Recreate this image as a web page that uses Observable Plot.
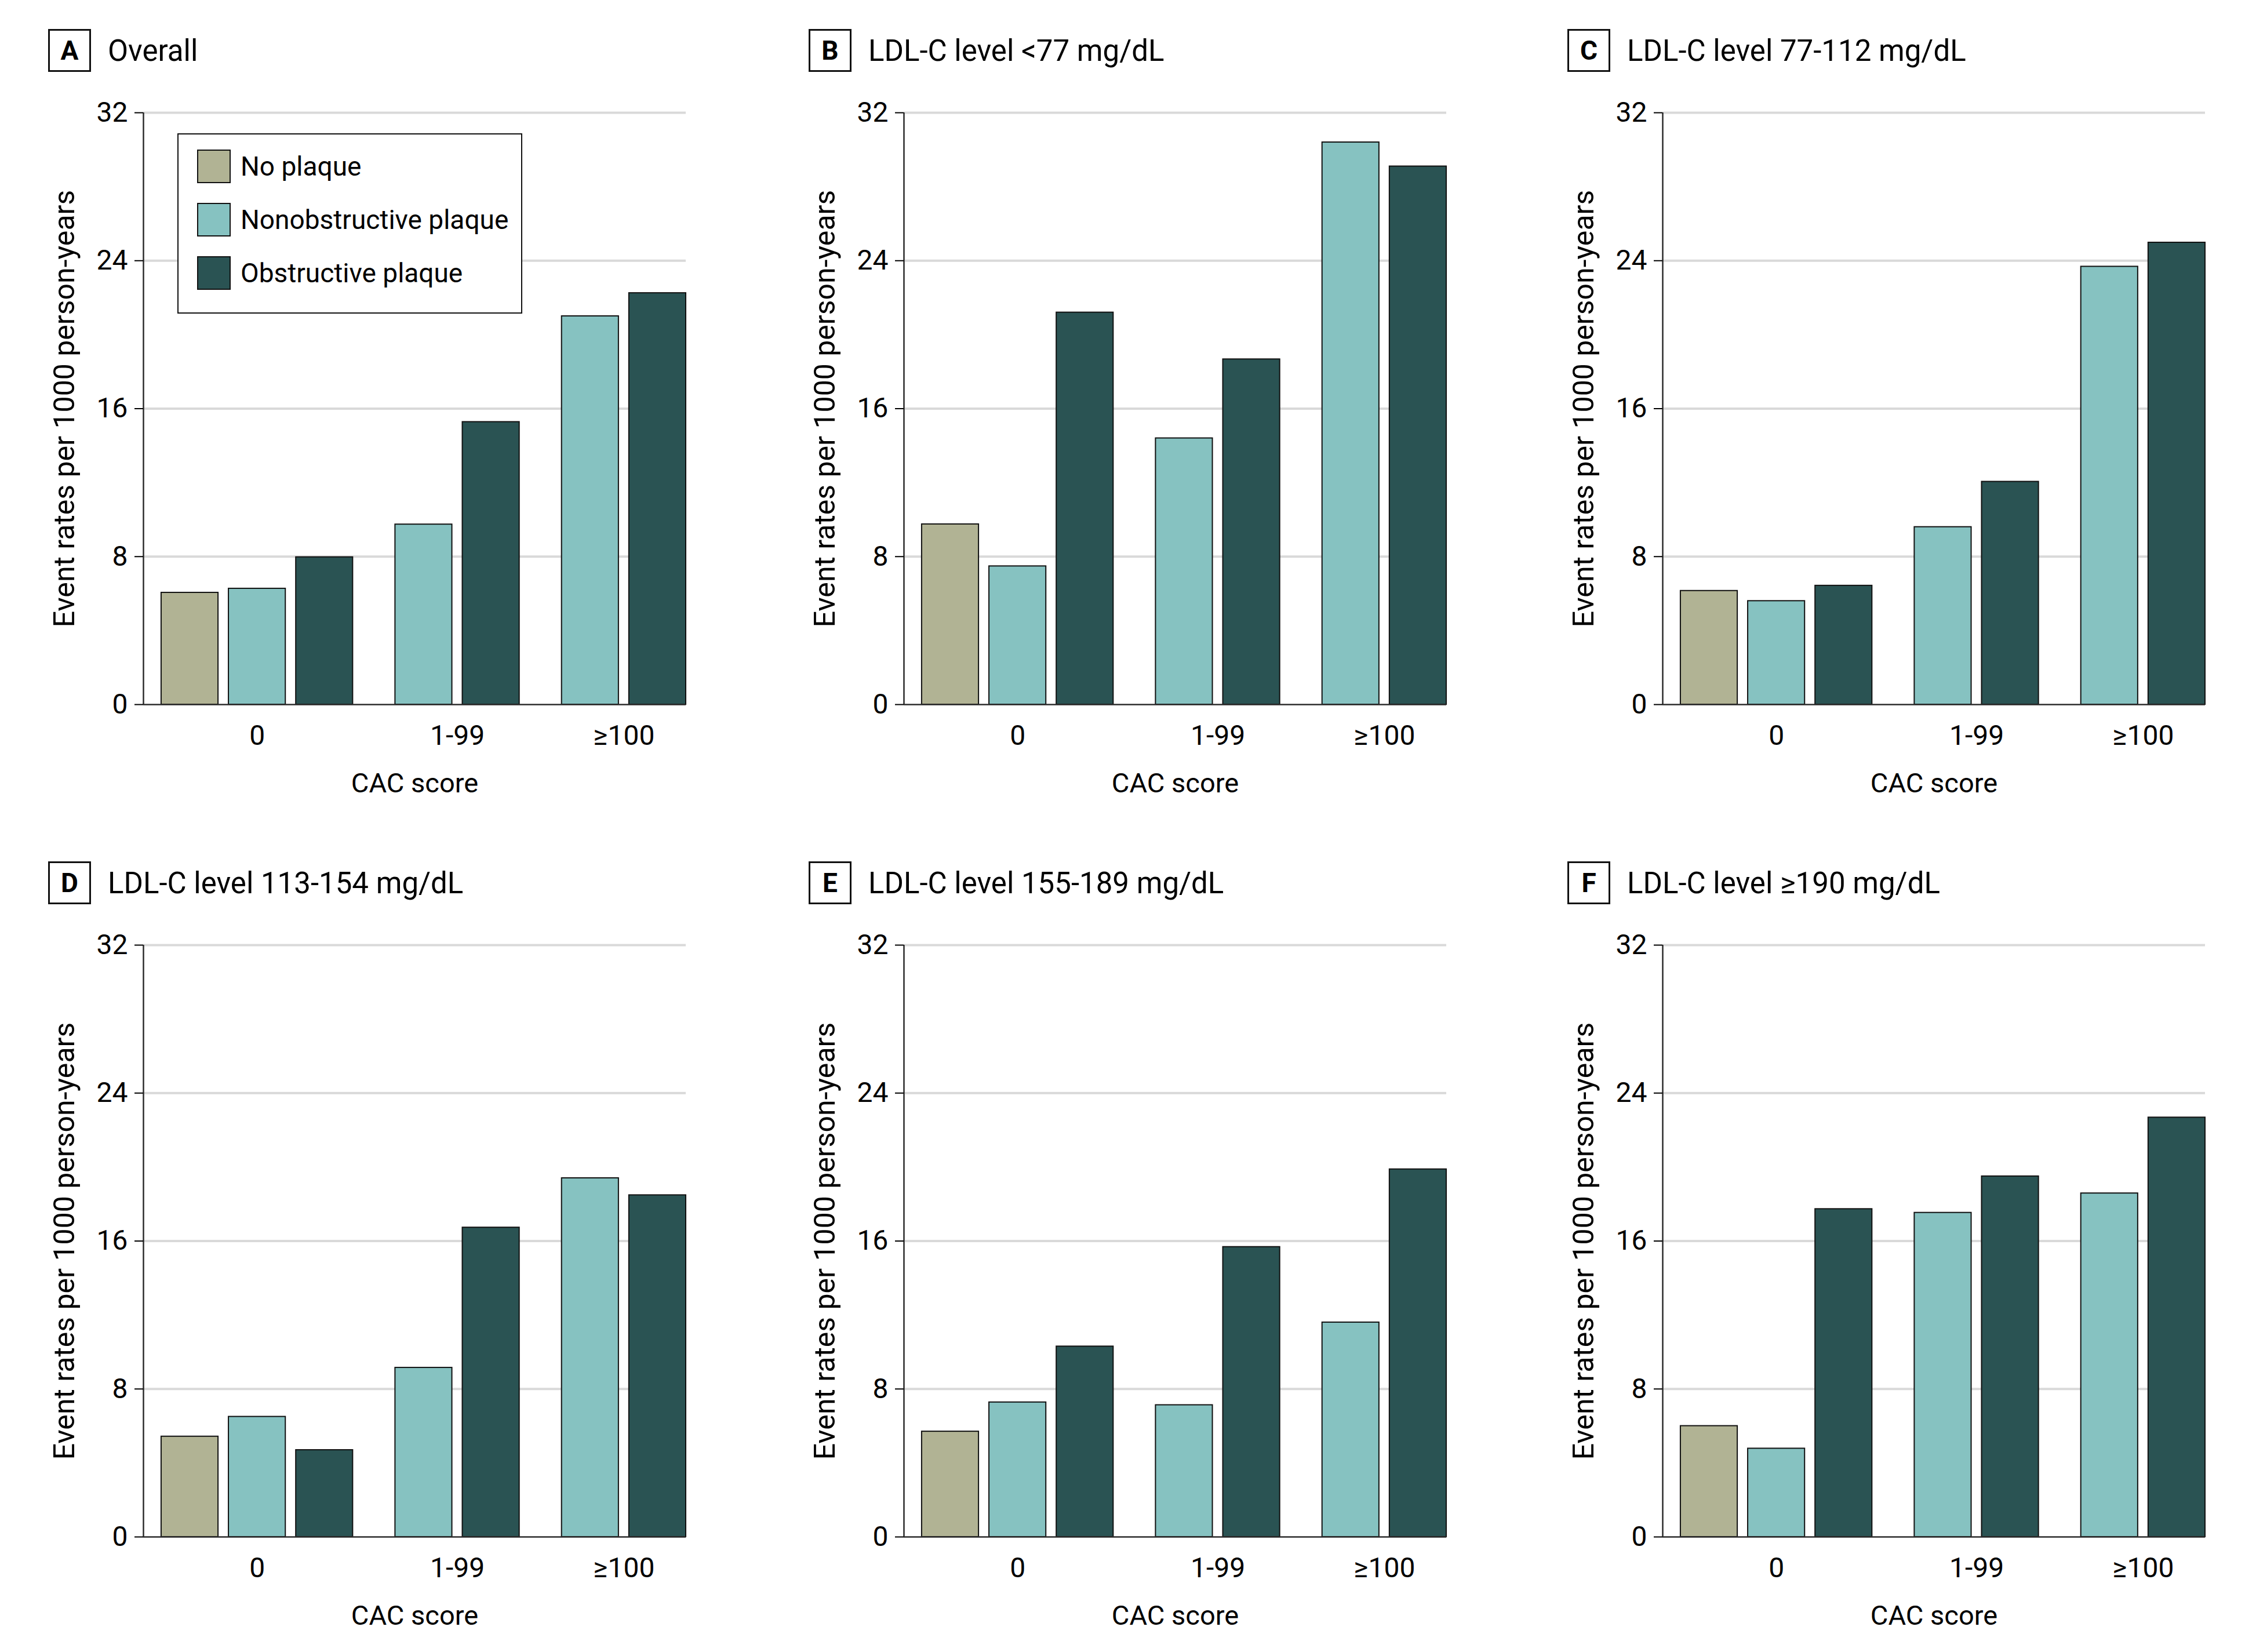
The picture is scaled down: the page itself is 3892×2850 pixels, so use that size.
<!DOCTYPE html>
<html><head><meta charset="utf-8">
<script src="https://cdn.jsdelivr.net/npm/d3@7"></script>
<script src="https://cdn.jsdelivr.net/npm/@observablehq/plot@0.6"></script>
<style>
  html, body { margin: 0; padding: 0; background: #fff; }
  #page { position: relative; width: 3892px; height: 2850px; font-family: Roboto, "Noto Sans", sans-serif; color: #000; overflow: hidden; }
  .panel { position: absolute; }
  .panel svg { position: absolute; left: 0; top: 0; overflow: visible; }
  .ptitle { position: absolute; display: flex; align-items: center; white-space: nowrap; }
  .pbox { box-sizing: border-box; width: 74px; height: 74px; border: 3px solid #111; display: flex; align-items: center; justify-content: center; font-weight: 700; font-size: 46px; line-height: 1; }
  .ptext { margin-left: 29px; font-size: 51px; line-height: 1; }
  .legend { position: absolute; box-sizing: border-box; border: 2.5px solid #111; background: #fff; }
  .lrow { position: absolute; display: flex; align-items: center; white-space: nowrap; }
  .lsw { box-sizing: border-box; width: 58px; height: 58px; border: 2px solid #111; }
  .ltx { margin-left: 17px; font-size: 46px; line-height: 1; }
</style>
</head><body>
<div id="page"></div>
<script>
// ---------- data ----------
const cacCategories = ["0", "1-99", "≥100"];
const plaqueTypes = ["No plaque", "Nonobstructive plaque", "Obstructive plaque"];
const plaqueColors = ["#b1b394", "#86c2c1", "#2a5353"];

// bar order within each panel
const barCAC    = ["0", "0", "0", "1-99", "1-99", "≥100", "≥100"];
const barPlaque = ["No plaque", "Nonobstructive plaque", "Obstructive plaque",
                   "Nonobstructive plaque", "Obstructive plaque",
                   "Nonobstructive plaque", "Obstructive plaque"];

// event rates per 1000 person-years, one array per panel (same order as barCAC / barPlaque)
const ratesA = [6.05, 6.27, 7.97, 9.74, 15.28, 21.0, 22.25];
const ratesB = [9.75, 7.48, 21.2, 14.4, 18.67, 30.4, 29.1];
const ratesC = [6.15, 5.6, 6.43, 9.6, 12.05, 23.68, 24.98];
const ratesD = [5.43, 6.5, 4.7, 9.15, 16.73, 19.4, 18.48];
const ratesE = [5.7, 7.28, 10.3, 7.13, 15.68, 11.6, 19.88];
const ratesF = [6.0, 4.78, 17.73, 17.53, 19.5, 18.58, 22.68];

const panelLetters = ["A", "B", "C", "D", "E", "F"];
const panelTitles = ["Overall", "LDL-C level <77 mg/dL", "LDL-C level 77-112 mg/dL",
                     "LDL-C level 113-154 mg/dL", "LDL-C level 155-189 mg/dL", "LDL-C level ≥190 mg/dL"];
const panelRates = [ratesA, ratesB, ratesC, ratesD, ratesE, ratesF];

const yTicks = [0, 8, 16, 24, 32];
const yTitle = "Event rates per 1000 person-years";
const xTitle = "CAC score";

// ---------- layout ----------
const ML = 247, MR = 40, MT = 44, MB = 180, FRAME_W = 936;
const W = ML + FRAME_W + MR, H = 1245;
const colLeft = [0, 1312, 2621];
const rowTop = [150, 1586];
// bar slot spacing (in bar widths)
const leftPad = 0.315, innerGap = 0.183, groupGap = 0.744;

// compute bar extents from category order (acts like a grouped band scale)
const slots = [];
let cursor = 0;
barCAC.forEach((g, i) => {
  cursor += i === 0 ? leftPad : (g === barCAC[i - 1] ? innerGap : groupGap);
  slots.push({x1: cursor, x2: cursor + 1});
  cursor += 1;
});
const xMax = cursor;
const groupCenter = new Map(cacCategories.map(g => {
  const idx = barCAC.map((b, i) => b === g ? i : -1).filter(i => i >= 0);
  return [g, (slots[idx[0]].x1 + slots[idx[idx.length - 1]].x2) / 2];
}));
const centers = cacCategories.map(g => groupCenter.get(g));
const centerLabel = new Map(cacCategories.map(g => [groupCenter.get(g), g]));

const page = document.getElementById("page");

panelRates.forEach((rates, p) => {
  const col = p % 3, row = Math.floor(p / 3);
  const rows = rates.map((v, i) => ({cac: barCAC[i], plaque: barPlaque[i], rate: v, x1: slots[i].x1, x2: slots[i].x2}));

  const chart = Plot.plot({
    width: W, height: H,
    marginLeft: ML, marginRight: MR, marginTop: MT, marginBottom: MB,
    style: {fontFamily: "Roboto, 'Noto Sans', sans-serif", color: "#000", background: "transparent", overflow: "visible"},
    x: {domain: [0, xMax], axis: null},
    y: {domain: [0, 32], axis: null},
    color: {domain: plaqueTypes, range: plaqueColors},
    marks: [
      Plot.gridY({ticks: yTicks.filter(t => t > 0), stroke: "#d9d9d9", strokeOpacity: 1, strokeWidth: 4}),
      Plot.rect(rows, {x1: "x1", x2: "x2", y1: 0, y2: "rate", fill: "plaque", stroke: "#111", strokeWidth: 2}),
      Plot.ruleX([0], {stroke: "#2b2b2b", strokeWidth: 2.5}),
      Plot.ruleY([0], {stroke: "#2b2b2b", strokeWidth: 2.5}),
      Plot.axisY({ticks: yTicks, tickSize: 15, tickPadding: 12, fontSize: 48, strokeWidth: 2, label: null}),
      Plot.axisX({ticks: centers, tickFormat: d => centerLabel.get(d), tickSize: 0, tickPadding: 35, fontSize: 48, label: null}),
      Plot.text([yTitle], {text: d => d, frameAnchor: "left", dx: -120, rotate: -90, lineAnchor: "bottom", textAnchor: "middle", fontSize: 50}),
      Plot.text([xTitle], {text: d => d, frameAnchor: "bottom", dy: 151, lineAnchor: "bottom", textAnchor: "middle", fontSize: 47})
    ]
  });

  const panel = document.createElement("div");
  panel.className = "panel";
  panel.style.left = colLeft[col] + "px";
  panel.style.top = rowTop[row] + "px";
  panel.style.width = W + "px";
  panel.style.height = H + "px";
  panel.appendChild(chart);
  page.appendChild(panel);

  // panel heading
  const t = document.createElement("div");
  t.className = "ptitle";
  t.style.left = (colLeft[col] + 83) + "px";
  t.style.top = (rowTop[row] - 100) + "px";
  const box = document.createElement("div");
  box.className = "pbox";
  box.textContent = panelLetters[p];
  const tx = document.createElement("div");
  tx.className = "ptext";
  tx.textContent = panelTitles[p];
  t.appendChild(box); t.appendChild(tx);
  page.appendChild(t);

  // legend in panel A
  if (p === 0) {
    const lg = document.createElement("div");
    lg.className = "legend";
    lg.style.left = "306px"; lg.style.top = "230px";
    lg.style.width = "595px"; lg.style.height = "311px";
    plaqueTypes.forEach((name, i) => {
      const r = document.createElement("div");
      r.className = "lrow";
      r.style.left = "32px";
      r.style.top = (26 + i * 92) + "px";
      const sw = document.createElement("div");
      sw.className = "lsw";
      sw.style.background = plaqueColors[i];
      const lt = document.createElement("div");
      lt.className = "ltx";
      lt.textContent = name;
      r.appendChild(sw); r.appendChild(lt);
      lg.appendChild(r);
    });
    page.appendChild(lg);
  }
});
</script></body></html>
